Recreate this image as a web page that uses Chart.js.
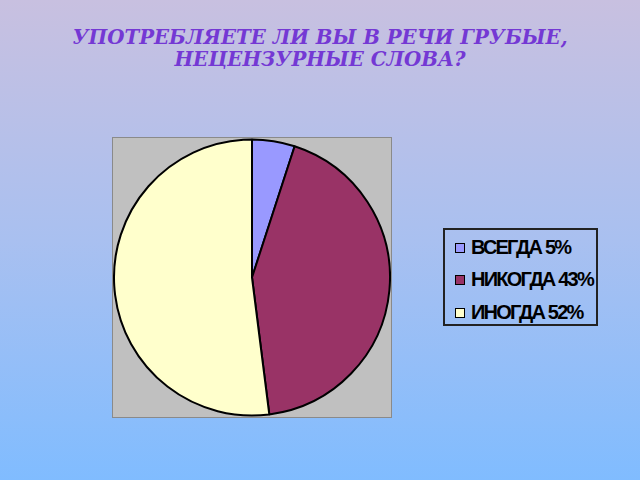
<!DOCTYPE html>
<html>
<head>
<meta charset="utf-8">
<script src="https://cdn.jsdelivr.net/npm/chart.js@4"></script>
<style>
  html, body { margin: 0; padding: 0; }
  body {
    width: 640px; height: 480px; position: relative; overflow: hidden;
    background: linear-gradient(to bottom, #c8c0e0 0%, #a9c0f0 50%, #80bcff 100%);
  }
  #title {
    position: absolute; left: 0; top: 26px; width: 640px; text-align: center;
    font-family: "DejaVu Serif", serif; font-weight: bold; font-style: italic;
    font-size: 19.8px; line-height: 22px; color: #7438d4;
  }
  #box {
    position: absolute; left: 112px; top: 137px; width: 280px; height: 281px;
    box-sizing: border-box; background: #c0c0c0; border: 1px solid #8a8a8a;
  }
  #box canvas { position: absolute; left: 0; top: 0; }
  #legend {
    position: absolute; left: 443px; top: 228px; width: 155px; height: 98px;
    box-sizing: border-box; border: 2px solid #222;
    font-family: "Liberation Sans", sans-serif; font-weight: bold; font-size: 20px;
    letter-spacing: -1.8px; color: #000;
  }
  .row { position: absolute; left: 10px; white-space: nowrap; line-height: 20px; }
  .sw {
    display: inline-block; width: 8px; height: 8px; border: 1px solid #000;
    margin-right: 6px; vertical-align: 1px;
  }
</style>
</head>
<body>
<div id="title">УПОТРЕБЛЯЕТЕ ЛИ ВЫ В РЕЧИ ГРУБЫЕ,<br>НЕЦЕНЗУРНЫЕ СЛОВА?</div>
<div id="box"><canvas id="myChart" width="278" height="279"></canvas></div>
<div id="legend"></div>
<script>
const categories = ['ВСЕГДА', 'НИКОГДА', 'ИНОГДА'];
const percents = [5, 43, 52];
const colors = ['#9999ff', '#993366', '#ffffcc'];

const ctx = document.getElementById('myChart');

const myChart = new Chart(ctx, {
    type: 'pie',
    data: {
        labels: categories,
        datasets: [
            {
                data: percents,
                backgroundColor: colors,
                borderColor: '#000',
                borderWidth: 2
            }
        ]
    },
    options: {
        responsive: false,
        animation: false,
        layout: { padding: 0 },
        plugins: {
            legend: { display: false },
            tooltip: { enabled: false }
        }
    }
});

// legend built from the same arrays
const legend = document.getElementById('legend');
const rowTops = [7, 39, 72];
categories.forEach((name, i) => {
    const row = document.createElement('div');
    row.className = 'row';
    row.style.top = rowTops[i] + 'px';
    row.innerHTML = '<span class="sw" style="background:' + colors[i] + '"></span>' +
        name + ' ' + percents[i] + '%';
    legend.appendChild(row);
});
</script>
</body>
</html>
